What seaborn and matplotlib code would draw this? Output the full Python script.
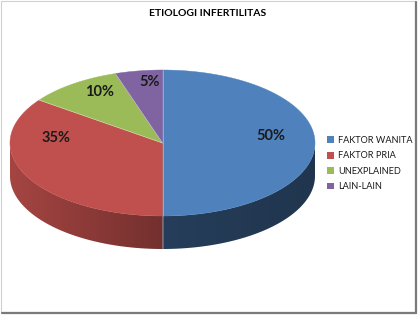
import numpy as np
import matplotlib
matplotlib.use("Agg")
import matplotlib.pyplot as plt
from matplotlib.patches import Polygon, Patch, Rectangle
from matplotlib.colors import to_rgb
import seaborn as sns

# ---- data ----
title = "ETIOLOGI INFERTILITAS"
categories = ["FAKTOR WANITA", "FAKTOR PRIA", "UNEXPLAINED", "LAIN-LAIN"]
values = [50, 35, 10, 5]
value_labels = ["50%", "35%", "10%", "5%"]

# ---- style / layout ----
colors = ["#4F81BD", "#C0504D", "#9BBB59", "#8064A2"]
label_pos = [(271, 136), (56, 138), (100, 92), (150, 82)]  # text layout (px)

sns.set_theme(style="white")
plt.rcParams['font.family'] = ['Lato', 'DejaVu Sans']

W, H = 419, 315
fig = plt.figure(figsize=(W / 100, H / 100), dpi=100)
ax = fig.add_axes([0, 0, 1, 1])
ax.set_xlim(0, W)
ax.set_ylim(H, 0)
ax.axis("off")

cx, cy, rx, ry, depth = 162.5, 143.0, 152.5, 73.0, 33.0

def pt(theta_deg, dy=0.0):
    t = np.deg2rad(theta_deg)
    return cx + rx * np.sin(t), cy - ry * np.cos(t) + dy

total = float(sum(values))
bounds = np.concatenate([[0], np.cumsum(values)]) / total * 360.0

def side_factor(s):
    return np.where(s < 0, 0.60 - 0.26 * s, 0.48 - 0.07 * s)

# side walls (front half: theta 90..270), shaded with a clipped gradient
for i, (a0, a1) in enumerate(zip(bounds[:-1], bounds[1:])):
    lo, hi = max(a0, 90.0), min(a1, 270.0)
    if hi <= lo:
        continue
    ts = np.linspace(lo, hi, int((hi - lo) * 3) + 2)
    top = [pt(t) for t in ts]
    bot = [pt(t, depth) for t in ts[::-1]]
    poly = Polygon(top + bot, closed=True, facecolor="none", edgecolor="none")
    ax.add_patch(poly)
    xs = [p[0] for p in top]
    ys = [p[1] for p in top]
    x0, x1 = min(xs) - 1, max(xs) + 1
    y0, y1 = min(ys) - 1, max(ys) + depth + 1
    xx = np.linspace(x0, x1, 300)
    s = np.clip((xx - cx) / rx, -1, 1)
    base = np.array(to_rgb(colors[i]))
    row = np.clip(base[None, :] * side_factor(s)[:, None], 0, 1)
    img = np.repeat(row[None, :, :], 4, axis=0)
    im = ax.imshow(img, extent=(x0, x1, y1, y0), origin="upper",
                   aspect="auto", interpolation="bilinear", zorder=1)
    im.set_clip_path(poly)

# top faces
for i, (a0, a1) in enumerate(zip(bounds[:-1], bounds[1:])):
    ts = np.linspace(a0, a1, max(3, int((a1 - a0) * 2)))
    pts = [(cx, cy)] + [pt(t) for t in ts]
    ax.add_patch(Polygon(pts, closed=True, facecolor=colors[i],
                         edgecolor=colors[i], linewidth=0.3, zorder=2))

# thin light separators on top
for a in bounds[:-1]:
    x, y = pt(a)
    ax.plot([cx, x], [cy, y], color="white", lw=0.4, alpha=0.6, zorder=3)
x, y = pt(180)
ax.plot([x, x], [y, y + depth], color="#d8d8d8", lw=0.4, alpha=0.5, zorder=3)

# value labels
for (lx, ly), txt in zip(label_pos, value_labels):
    ax.text(lx, ly, txt, ha="center", va="center", fontsize=10.5,
            fontweight="bold", color="#1a1a1a", zorder=4)

# title
ax.text(207.5, 13, title, ha="center", va="center", fontsize=7.5,
        fontweight="bold", color="#000000")

# legend
handles = [Patch(facecolor=c, edgecolor="none") for c in colors]
leg = ax.legend(handles, categories, loc="upper left",
                bbox_to_anchor=(327 / W, 1 - 136 / H), bbox_transform=fig.transFigure,
                frameon=False, fontsize=6.6, handlelength=0.75, handleheight=0.75,
                handletextpad=0.45, labelspacing=0.70, borderpad=0, borderaxespad=0)
for t in leg.get_texts():
    t.set_color("#1a1a1a")

# frame with shadow
ax.add_patch(Rectangle((0.5, 0.5), 414, 311, fill=False, edgecolor="#d0d0d0", lw=0.8))
ax.plot([415.5, 415.5], [2, 313], color="#7a7a7a", lw=1.6)
ax.plot([2, 415.5], [312.5, 312.5], color="#7a7a7a", lw=1.6)

fig.savefig("out.png", dpi=100, facecolor="white")
